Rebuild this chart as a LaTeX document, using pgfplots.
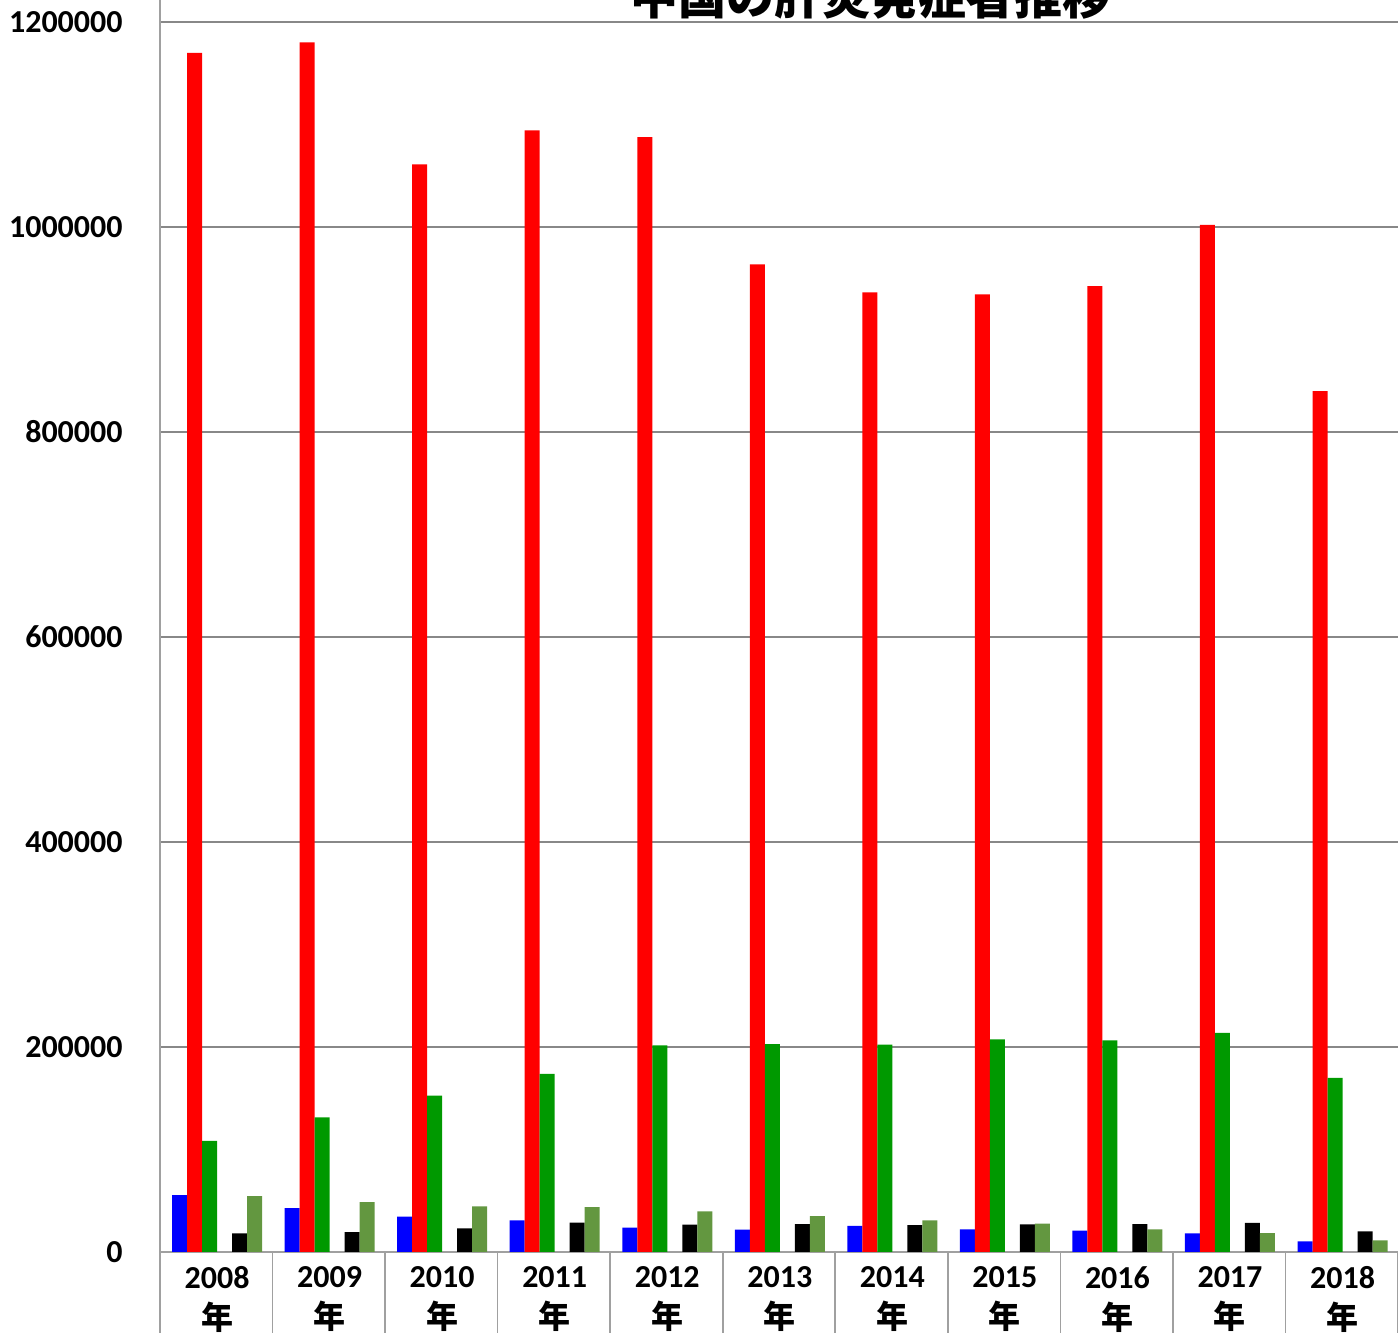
\documentclass[border=0pt]{standalone}
\usepackage{pgfplots}
\pgfplotsset{compat=1.18}
\usepackage{pgfplotstable}
\usepackage{fontspec}
\setmainfont{Carlito}
\newfontfamily\cjk{Noto Sans CJK JP}
\definecolor{cblue}{RGB}{0,0,255}
\definecolor{cred}{RGB}{255,0,0}
\definecolor{cgreen}{RGB}{0,153,0}
\definecolor{colive}{RGB}{99,151,64}
\definecolor{cgrid}{RGB}{136,136,136}
\definecolor{caxis}{RGB}{160,160,160}
\pgfplotstableread{
x blue red green black olive
0 55600 1170000 108300 18200 54600
1 42900 1180200 131400 19500 48700
2 34400 1061200 152500 23100 44500
3 30900 1094300 173700 28600 43900
4 23700 1087800 201600 26700 39700
5 21800 963600 202900 27300 35100
6 25400 936300 202200 26300 30900
7 22100 934300 207500 27000 27600
8 20800 942400 206500 27300 22100
9 18200 1002200 213700 28300 18500
10 10400 840000 169800 20200 11400
}\data
\begin{document}
\begin{tikzpicture}
\path[use as bounding box] (0,0) rectangle (699pt,666.5pt);
\begin{axis}[
  at={(80pt,40.5pt)}, anchor=south west,
  scale only axis, width=619pt, height=626pt,
  xmin=-0.5, xmax=10.5, ymin=0, ymax=1221500,
  axis x line*=bottom, axis y line*=left,
  axis line style={draw=caxis, line width=0.8pt, -},
  ytick={0,200000,400000,600000,800000,1000000,1200000},
  ymajorgrids, grid style={draw=cgrid, line width=0.6pt},
  xtick={0,...,10},
  xticklabels={{2008\\{\cjk\bfseries 年}},{2009\\{\cjk\bfseries 年}},{2010\\{\cjk\bfseries 年}},{2011\\{\cjk\bfseries 年}},{2012\\{\cjk\bfseries 年}},{2013\\{\cjk\bfseries 年}},{2014\\{\cjk\bfseries 年}},{2015\\{\cjk\bfseries 年}},{2016\\{\cjk\bfseries 年}},{2017\\{\cjk\bfseries 年}},{2018\\{\cjk\bfseries 年}}},
  minor xtick={-0.5,0.5,...,10.5},
  major tick length=0pt, minor tick length=50pt, tick align=outside,
  minor tick style={draw=caxis, line width=0.8pt},
  tick label style={font=\bfseries\fontsize{16}{19}\selectfont},
  yticklabel style={inner sep=0pt, xshift=-18.5pt},
  xticklabel style={align=center, inner sep=0pt, yshift=-7pt, xshift=0.4pt, font=\bfseries\fontsize{16}{20.5}\selectfont},
  scaled y ticks=false,
  yticklabel={\pgfmathprintnumber[fixed,precision=0,set thousands separator={},assume math mode=true]{\tick}},
  ybar, bar width=7.5pt,
]
\addplot[fill=cblue, draw=none, bar shift=-18.35pt] table[x=x,y=blue]{\data};
\addplot[fill=cred, draw=none, bar shift=-10.85pt] table[x=x,y=red]{\data};
\addplot[fill=cgreen, draw=none, bar shift=-3.35pt] table[x=x,y=green]{\data};
\addplot[fill=black, draw=none, bar shift=11.65pt] table[x=x,y=black]{\data};
\addplot[fill=colive, draw=none, bar shift=19.15pt] table[x=x,y=olive]{\data};
\end{axis}
\node[font=\cjk\bfseries\fontsize{24}{28}\selectfont, anchor=base, inner sep=0pt] at (435pt,659.4pt) {中国の肝炎発症者推移};
\end{tikzpicture}
\end{document}
